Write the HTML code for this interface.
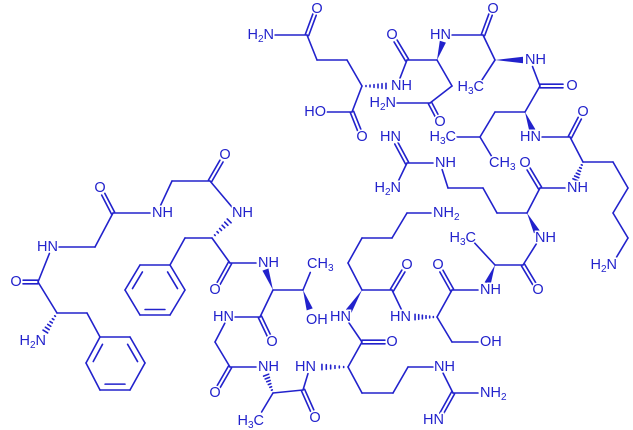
<!DOCTYPE html>
<html><head><meta charset="utf-8">
<style>
html,body{margin:0;padding:0;background:#fff;}
svg{display:block;}
text{font-family:"Liberation Sans",Arial,sans-serif;font-size:14.5px;fill:#2222cc;stroke:#fff;stroke-width:3px;paint-order:stroke;dominant-baseline:central;}
tspan.s{font-size:10px;}
</style></head><body>
<svg id="m" width="633" height="430" viewBox="0 0 633 430" xmlns="http://www.w3.org/2000/svg">
<g id="b" stroke="#2222cc" stroke-width="1.6" fill="#2222cc" stroke-linecap="round"></g>
<g id="t">
<text x="16" y="282" text-anchor="middle">O</text>
<text x="58" y="247" text-anchor="end">HN</text>
<text x="46" y="341" text-anchor="end">H<tspan class="s" dy="4">2</tspan><tspan dy="-4">N</tspan></text>
<text x="100" y="188" text-anchor="middle">O</text>
<text x="152" y="213" text-anchor="start">NH</text>
<text x="225" y="155" text-anchor="middle">O</text>
<text x="232" y="213" text-anchor="start">NH</text>
<text x="215" y="290" text-anchor="middle">O</text>
<text x="258" y="263" text-anchor="start">NH</text>
<text x="307" y="264" text-anchor="start">CH<tspan class="s" dy="4">3</tspan></text>
<text x="306" y="320" text-anchor="start">OH</text>
<text x="234" y="317" text-anchor="end">HN</text>
<text x="272" y="342" text-anchor="middle">O</text>
<text x="215" y="393" text-anchor="middle">O</text>
<text x="258" y="367" text-anchor="start">NH</text>
<text x="264" y="421" text-anchor="end">H<tspan class="s" dy="4">3</tspan><tspan dy="-4">C</tspan></text>
<text x="315" y="418" text-anchor="middle">O</text>
<text x="316" y="367" text-anchor="end">HN</text>
<text x="392" y="342" text-anchor="middle">O</text>
<text x="351" y="317" text-anchor="end">HN</text>
<text x="434" y="367" text-anchor="start">NH</text>
<text x="480" y="393" text-anchor="start">NH<tspan class="s" dy="4">2</tspan></text>
<text x="444" y="420" text-anchor="end">HN</text>
<text x="407" y="265" text-anchor="middle">O</text>
<text x="411" y="317" text-anchor="end">HN</text>
<text x="433" y="213" text-anchor="start">NH<tspan class="s" dy="4">2</tspan></text>
<text x="480" y="342" text-anchor="start">OH</text>
<text x="438" y="265" text-anchor="middle">O</text>
<text x="480" y="290" text-anchor="start">NH</text>
<text x="476" y="238" text-anchor="end">H<tspan class="s" dy="4">3</tspan><tspan dy="-4">C</tspan></text>
<text x="538" y="290" text-anchor="middle">O</text>
<text x="535" y="238" text-anchor="start">NH</text>
<text x="435" y="163" text-anchor="start">NH</text>
<text x="401" y="137" text-anchor="end">HN</text>
<text x="401" y="188" text-anchor="end">H<tspan class="s" dy="4">2</tspan><tspan dy="-4">N</tspan></text>
<text x="525" y="163" text-anchor="middle">O</text>
<text x="567" y="188" text-anchor="start">NH</text>
<text x="617" y="265" text-anchor="end">H<tspan class="s" dy="4">2</tspan><tspan dy="-4">N</tspan></text>
<text x="583" y="112" text-anchor="middle">O</text>
<text x="541" y="137" text-anchor="end">HN</text>
<text x="456" y="137" text-anchor="end">H<tspan class="s" dy="4">3</tspan><tspan dy="-4">C</tspan></text>
<text x="489" y="163" text-anchor="start">CH<tspan class="s" dy="4">3</tspan></text>
<text x="572" y="86" text-anchor="middle">O</text>
<text x="525" y="60" text-anchor="start">NH</text>
<text x="484" y="87" text-anchor="end">H<tspan class="s" dy="4">3</tspan><tspan dy="-4">C</tspan></text>
<text x="493" y="9" text-anchor="middle">O</text>
<text x="451" y="35" text-anchor="end">HN</text>
<text x="392" y="35" text-anchor="middle">O</text>
<text x="391" y="86" text-anchor="start">NH</text>
<text x="396" y="103" text-anchor="end">H<tspan class="s" dy="4">2</tspan><tspan dy="-4">N</tspan></text>
<text x="440" y="122" text-anchor="middle">O</text>
<text x="326" y="112" text-anchor="end">HO</text>
<text x="362" y="137" text-anchor="middle">O</text>
<text x="317" y="9" text-anchor="middle">O</text>
<text x="274" y="35" text-anchor="end">H<tspan class="s" dy="4">2</tspan><tspan dy="-4">N</tspan></text>
</g>
</svg>
<script>
(function(){
var g=document.getElementById('b'),NS='http://www.w3.org/2000/svg';
var LP=[52,247,16,282,40,340,100,188,157,213,225,155,237,213,215,290,263,263,313,266,312,316,228,317,272,342,215,393,263,367,258,418,315,417,310,367,392,342,345,317,440,367,485,393,438,420,407,265,405,317,438,213,485,342,438,265,485,290,470,238,538,290,540,238,440,163,393,137,395,188,525,163,572,188,613,263,583,112,535,137,450,137,495,162,530,60,570,86,478,86,493,8,445,35,392,35,397,86,390,103,440,122,318,112,362,137,317,8,268,35];
function isL(x,y){for(var i=0;i<LP.length;i+=2)if(LP[i]==x&&LP[i+1]==y)return true;return false;}
function trim(a,b,c,d){var dx=c-a,dy=d-b,n=Math.hypot(dx,dy),ux=dx/n,uy=dy/n,t=7;
 if(isL(a,b)){a+=ux*t;b+=uy*t;} if(isL(c,d)){c-=ux*t;d-=uy*t;} return [a,b,c,d];}
function L0(a,b,c,d){var l=document.createElementNS(NS,'line');l.setAttribute('x1',a);l.setAttribute('y1',b);l.setAttribute('x2',c);l.setAttribute('y2',d);g.appendChild(l);}
function L(a,b,c,d){var r=trim(a,b,c,d);L0(r[0],r[1],r[2],r[3]);}
function S(p){for(var i=0;i<p.length-2;i+=2)L(p[i],p[i+1],p[i+2],p[i+3]);}
function D(a,b,c,d){var r=trim(a,b,c,d);a=r[0];b=r[1];c=r[2];d=r[3];var dx=c-a,dy=d-b,n=Math.hypot(dx,dy),ox=-dy/n*1.8,oy=dx/n*1.8;L0(a+ox,b+oy,c+ox,d+oy);L0(a-ox,b-oy,c-ox,d-oy);}
function W(a,b,c,d){var r=trim(a,b,c,d);c=r[2];d=r[3];var dx=c-a,dy=d-b,n=Math.hypot(dx,dy),ox=-dy/n*3.2,oy=dx/n*3.2;var p=document.createElementNS(NS,'polygon');p.setAttribute('points',a+','+b+' '+(c+ox)+','+(d+oy)+' '+(c-ox)+','+(d-oy));p.setAttribute('stroke','none');g.appendChild(p);}
function H(a,b,c,d){var dx=c-a,dy=d-b,n=Math.hypot(dx,dy),ux=-dy/n,uy=dx/n;for(var k=1;k<=6;k++){var t=k/7,w=3.2*t,x=a+dx*t*0.8,y=b+dy*t*0.8;L0(x+ux*w,y+uy*w,x-ux*w,y-uy*w);}}
function R(v,dbl){for(var i=0;i<6;i++){var j=(i+1)%6;L0(v[2*i],v[2*i+1],v[2*j],v[2*j+1]);}
 var cx=0,cy=0;for(i=0;i<6;i++){cx+=v[2*i]/6;cy+=v[2*i+1]/6;}
 dbl.forEach(function(i){var j=(i+1)%6;var x1=v[2*i],y1=v[2*i+1],x2=v[2*j],y2=v[2*j+1];
  var f=0.78;var sx=cx+(x1-cx)*f,sy=cy+(y1-cy)*f,ex=cx+(x2-cx)*f,ey=cy+(y2-cy)*f;
  var mx=(sx+ex)/2,my=(sy+ey)/2;L0(mx+(sx-mx)*0.85,my+(sy-my)*0.85,mx+(ex-mx)*0.85,my+(ey-my)*0.85);});}
S([52,247,38,282,57,313,87,313,100,337]);
D(38,282,16,282);
H(57,313,40,340);
R([100,337,130,337,145,363,130,390,100,390,86,363],[5,1,3]);
S([52,247,95,247,113,213,157,213]);
D(113,213,100,188);
S([157,213,172,181,210,181,237,213]);
D(210,181,225,155);
H(212,238,237,213);
S([212,238,185,238,170,265]);
R([170,265,140,265,125,290,140,315,170,315,185,290],[1,3,5]);
S([212,238,230,263,263,263]);
D(230,263,215,290);
W(273,290,263,263);
S([273,290,303,290,313,266]);
W(303,290,312,316);
S([273,290,260,317,228,317,215,342,230,367,263,367]);
D(260,317,272,342);
D(230,367,215,393);
H(273,393,263,367);
S([273,393,258,418]);
S([273,393,303,390,310,367]);
D(303,390,315,417);
H(348,367,310,367);
S([348,367,362,342,345,317]);
D(362,342,392,342);
S([348,367,362,393,393,393,408,367,440,367,453,393,485,393]);
D(453,393,438,420);
W(362,290,345,317);
S([362,290,392,290,405,317]);
D(392,290,407,265);
S([362,290,348,263,362,238,392,238,407,213,438,213]);
H(437,317,405,317);
S([437,317,452,342,485,342]);
S([437,317,452,290,485,290]);
D(452,290,438,265);
W(495,265,485,290);
S([495,265,470,238]);
S([495,265,523,265,540,238]);
D(523,265,538,290);
W(527,213,540,238);
S([527,213,497,213,483,188,448,188,440,163,407,163,395,188]);
D(407,163,393,137);
S([527,213,540,188,572,188]);
D(540,188,525,163);
H(583,162,572,188);
S([583,162,613,162,628,188,613,213,628,238,613,263]);
S([583,162,570,137,535,137]);
D(570,137,583,112);
W(525,112,535,137);
S([525,112,495,112,480,137,450,137]);
S([480,137,495,162]);
S([525,112,540,86,530,60]);
D(540,86,570,86);
W(495,60,530,60);
S([495,60,478,86]);
S([495,60,483,35,445,35]);
D(483,35,493,8);
W(437,60,445,35);
S([437,60,407,60,397,86]);
D(407,60,392,35);
S([437,60,452,86,430,103,390,103]);
D(430,103,440,122);
H(362,86,397,86);
S([362,86,352,112,318,112]);
D(352,112,362,137);
S([362,86,347,60,317,60,307,35,268,35]);
D(307,35,317,8);
})();
</script>
</body></html>
